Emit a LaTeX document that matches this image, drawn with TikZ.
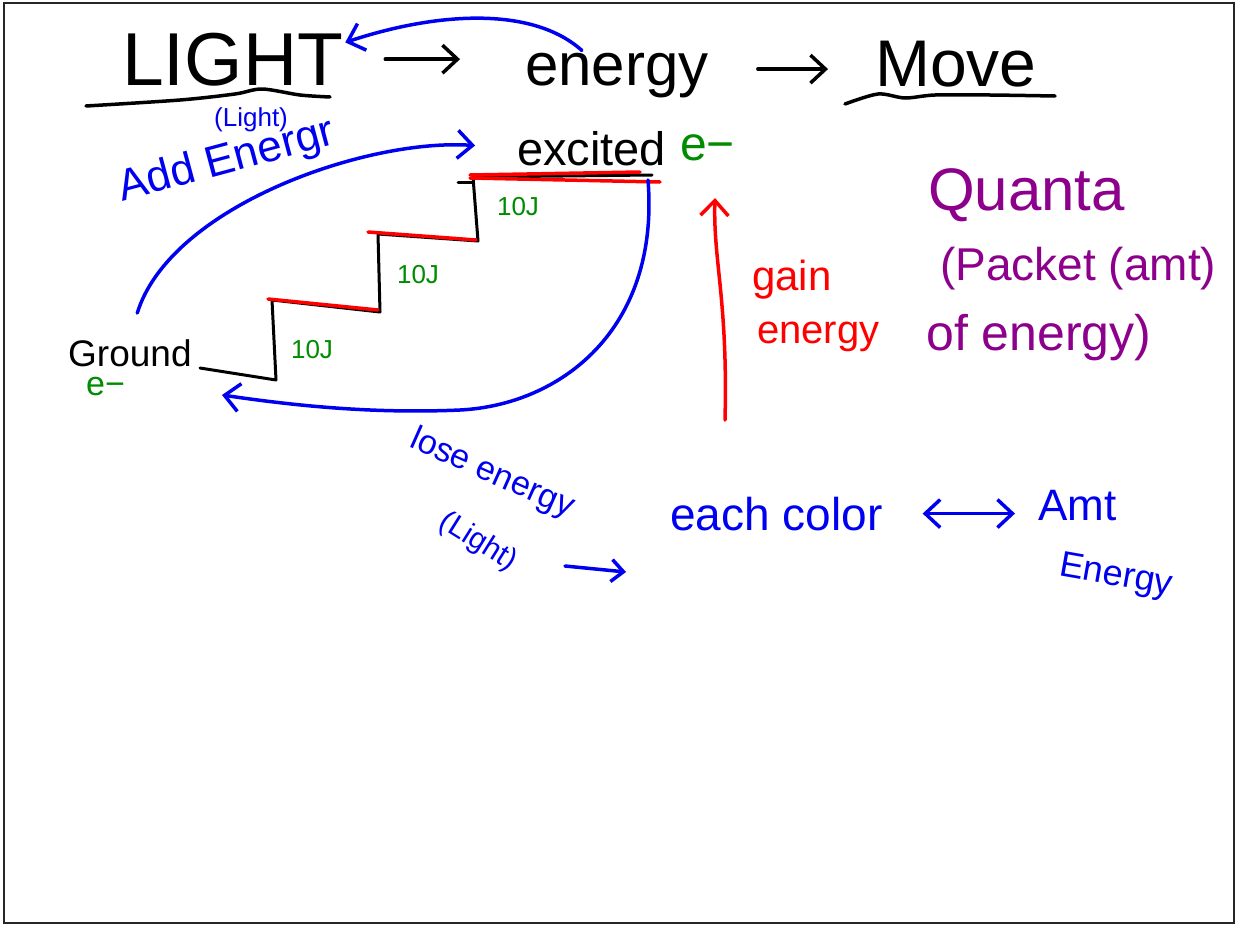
\documentclass[tikz,border=0pt]{standalone}
\usepackage{fontspec}
\setmainfont{Liberation Sans}
\usetikzlibrary{arrows.meta}
\definecolor{pen-blue}{HTML}{0000F0}
\definecolor{pen-red}{HTML}{FF0000}
\definecolor{pen-green}{HTML}{008C00}
\definecolor{pen-purple}{HTML}{8C008C}
\newcommand{\penfont}[1]{\fontsize{#1}{#1}\selectfont}

\begin{document}
\begin{tikzpicture}[x=1pt, y=-1pt,
    ink/.style={line width=3.5pt, line cap=round, line join=round},
    barb/.style={-{Straight Barb[length=15pt, width=28pt]}},
    word/.style={inner sep=2pt, anchor=base west}]
    \useasboundingbox (0,0) rectangle (1238,926);
    \draw[line width=2.5pt, black!85] (4,3) rectangle (1234,923);

    \node[word, font=\penfont{75}] (light) at (120,85) {LIGHT};
    \node[word, font=\penfont{60}] (energy) at (523,85) {energy};
    \node[word, font=\penfont{66}] (move) at (873,86) {Move};
    \node[word, pen-blue, font=\penfont{26}] (lightsmall) at (212,126) {(Light)};
    \node[word, pen-blue, font=\penfont{44}, rotate=15] (addenergy) at (120,202) {Add Energr};
    \node[word, font=\penfont{47}] (excited) at (515,165) {excited};
    \node[word, pen-green, font=\penfont{48}] (excitede) at (678,160) {e−};
    \node[word, font=\penfont{37}] (ground) at (66,366) {Ground};
    \node[word, pen-green, font=\penfont{34}] (grounde) at (84,395) {e−};
    \node[pen-green, font=\penfont{26}] (stepa) at (312,350) {10J};
    \node[pen-green, font=\penfont{26}] (stepb) at (418,275) {10J};
    \node[pen-green, font=\penfont{26}] (stepc) at (518,207) {10J};
    \node[word, pen-red, font=\penfont{42}] (gain) at (750,290) {gain};
    \node[word, pen-red, font=\penfont{40}] (gainenergy) at (755,343) {energy};
    \node[word, pen-purple, font=\penfont{60}] (quanta) at (926,210) {Quanta};
    \node[word, pen-purple, font=\penfont{46}] (packet) at (938,280) {(Packet (amt)};
    \node[word, pen-purple, font=\penfont{50}] (ofenergy) at (924,350) {of energy)};
    \node[pen-blue, font=\penfont{34}, rotate=-24] (lose) at (492,474) {lose energy};
    \node[pen-blue, font=\penfont{30}, rotate=-32] (loselight) at (478,542) {(Light)};
    \node[word, pen-blue, font=\penfont{46}] (color) at (668,530) {each color};
    \node[word, pen-blue, font=\penfont{44}] (amt) at (1036,520) {Amt};
    \node[word, pen-blue, font=\penfont{36}, rotate=-10] (amtenergy) at (1056,575) {Energy};

    \coordinate (topstep) at (648,180);
    \coordinate (grounddrop) at (222,395);
    \coordinate (gainlow) at (725,420);
    \coordinate (gaintop) at (715,198);
    \coordinate (smalla) at (565,566);
    \coordinate (smallb) at (626,572);

    \draw[ink] plot[smooth] coordinates {(86,106) (180,100) (235,94) (262,89) (300,95) (330,97)};
    \draw[ink] plot[smooth] coordinates {(845,104) (878,94) (905,98) (935,95) (990,95) (1055,96)};
    \draw[ink, barb, shorten <=40pt, shorten >=63pt] (light.east) -- (light.east -| energy.west);
    \draw[ink, barb, shorten <=47pt, shorten >=45pt] ([yshift=6pt]energy.east) -- ([yshift=6pt]energy.east -| move.west);
    \draw[ink, pen-blue, barb] ([xshift=-35pt]energy.north) .. controls +(-50,-45) and +(90,-30) .. ([yshift=-12pt]light.north east);

    \draw[ink, line width=3pt] (200,368) -- (276,380) -- (272,300) -- (380,312) -- (378,234) -- (478,241) -- (473,177) -- (652,175);
    \draw[ink, line width=3pt] (458,182) -- (473,182);
    \draw[ink, pen-red] (268,299) -- (378,310);
    \draw[ink, pen-red] (368,232) -- (476,240);
    \draw[ink, pen-red] (470,175) -- (640,172);
    \draw[ink, pen-red] (470,178) -- (660,182);

    \draw[ink, pen-blue, barb, shorten <=25pt, shorten >=40pt] (ground.north) .. controls +(40,-130) and +(-150,-10) .. (excited.west);
    \draw[ink, pen-blue, barb] (topstep) .. controls (660,330) and (560,405) .. (460,410) .. controls (370,414) and (290,405) .. (grounddrop);
    \draw[ink, pen-red, barb] (gainlow) .. controls (728,300) and (713,260) .. (gaintop);
    \draw[ink, pen-blue, {Straight Barb[length=15pt, width=28pt]}-{Straight Barb[length=15pt, width=28pt]}, shorten <=38pt, shorten >=21pt] (color.east) -- (color.east -| amt.west);
    \draw[ink, pen-blue, -{Straight Barb[length=12pt, width=22pt]}] (smalla) -- (smallb);
\end{tikzpicture}
\end{document}
